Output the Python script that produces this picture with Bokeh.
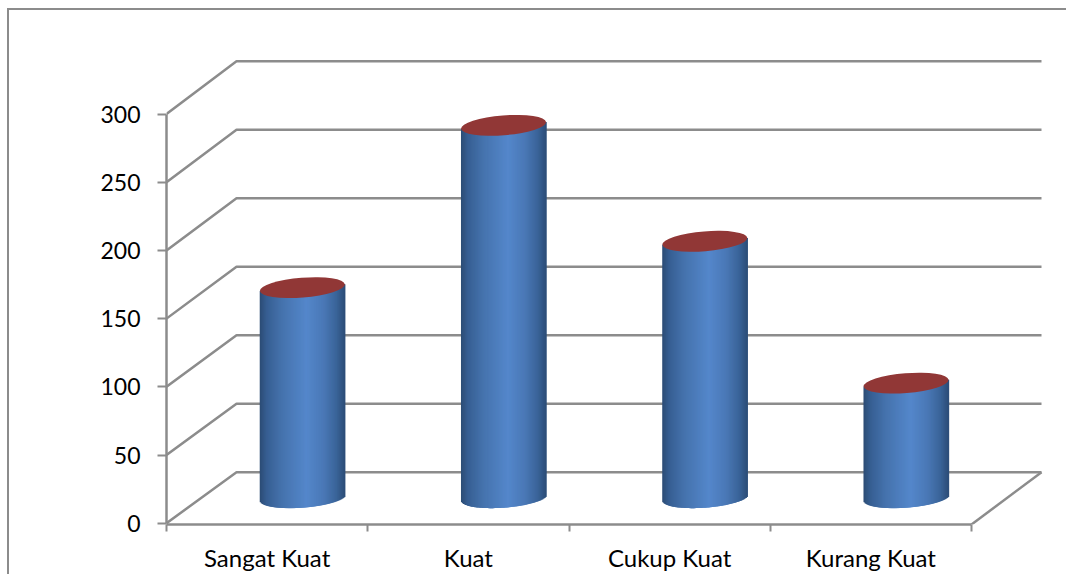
import math
from bokeh.embed import file_html
from bokeh.models import FixedTicker, LinearAxis, Range1d
from bokeh.plotting import figure
from bokeh.resources import INLINE

categories = ["Sangat Kuat", "Kuat", "Cukup Kuat", "Kurang Kuat"]
values = [154, 273, 188, 84]
y_ticks = [0, 50, 100, 150, 200, 250, 300]

GRAY = "#8c8c8c"
CAP_COLOR = "#913736"
FONT = "Lato"

# The figure sits inside a page-level border on its left and top
PAGE_W, PAGE_H = 1066, 574
MARGIN_X, MARGIN_Y = 7, 8
BORDER = 2
INSET_X, INSET_Y = MARGIN_X + BORDER, MARGIN_Y + BORDER
WIDTH, HEIGHT = PAGE_W - MARGIN_X, PAGE_H - MARGIN_Y
LEFT, BOTTOM = 166 - INSET_X, 52
FRAME_W, FRAME_H = WIDTH - LEFT, HEIGHT - BOTTOM

# Pixel scales of the two value axes
PX_X = 201.25
PX_Y = 1.364
ZERO_Y = 522.7 - INSET_Y

# Oblique depth of the chart box, in axis units; the back wall is a touch taller
DEPTH_X = 70 / PX_X
DEPTH_Y = 51 / PX_Y
BACK_STRETCH = 1.004

# Cylinder proportions, in pixels
HALF_W = 42.6
HALF_H = 9.9
TILT = math.radians(4.6)
BAR_SHIFT = 0.2

# Horizontal shading across a cylinder (position, rgb)
RAMP = [
    (0.00, (44, 76, 116)),
    (0.08, (54, 94, 146)),
    (0.25, (69, 114, 172)),
    (0.55, (84, 135, 203)),
    (0.75, (74, 120, 182)),
    (0.90, (58, 100, 153)),
    (1.00, (44, 77, 119)),
]


def shade(t):
    for (t0, c0), (t1, c1) in zip(RAMP, RAMP[1:]):
        if t <= t1:
            f = (t - t0) / (t1 - t0)
            rgb = [round(a + (b - a) * f) for a, b in zip(c0, c1)]
            return "#%02x%02x%02x" % tuple(rgb)
    return "#%02x%02x%02x" % RAMP[-1][1]


def lower_arc(dx):
    """Downward distance in pixels from the ellipse centre to its lower edge at dx."""
    c, s = math.cos(TILT), math.sin(TILT)
    a2, b2 = HALF_W ** 2, HALF_H ** 2
    qa = s * s / a2 + c * c / b2
    qb = 2 * dx * c * s * (1 / a2 - 1 / b2)
    qc = dx * dx * (c * c / a2 + s * s / b2) - 1
    disc = max(qb * qb - 4 * qa * qc, 0)
    dy_up = (-qb - math.sqrt(disc)) / (2 * qa)
    return -dy_up


p = figure(
    width=WIDTH,
    height=HEIGHT,
    output_backend="svg",
    toolbar_location=None,
    x_range=Range1d(0, FRAME_W / PX_X),
    y_range=Range1d(-(FRAME_H - ZERO_Y) / PX_Y, ZERO_Y / PX_Y),
    x_axis_type=None,
    y_axis_type=None,
    min_border_left=LEFT,
    min_border_right=0,
    min_border_top=0,
    min_border_bottom=BOTTOM,
    outline_line_color=None,
    background_fill_color="white",
    border_fill_color="white",
    styles={
        "margin-left": f"{MARGIN_X}px",
        "margin-top": f"{MARGIN_Y}px",
        "border-left": f"{BORDER}px solid {GRAY}",
        "border-top": f"{BORDER}px solid {GRAY}",
    },
)
p.grid.visible = False

# Side-wall and back-wall gridlines
p.multi_line(
    xs=[[0, DEPTH_X, len(categories) + DEPTH_X] for _ in y_ticks],
    ys=[[v, v * BACK_STRETCH + DEPTH_Y, v * BACK_STRETCH + DEPTH_Y] for v in y_ticks],
    line_color=GRAY,
    line_width=2.5,
)

# Right edge of the floor
p.line(
    x=[len(categories), len(categories) + DEPTH_X],
    y=[-(FRAME_H - ZERO_Y) / PX_Y, DEPTH_Y],
    line_color=GRAY,
    line_width=2.5,
)

# Cylinders: shaded strips capped with a tilted ellipse
base_y = DEPTH_Y / 2
for i, val in enumerate(values):
    center = i + 0.5 + DEPTH_X / 2 + BAR_SHIFT / PX_X
    left, right, bottom, top, colors = [], [], [], [], []
    n = int(2 * HALF_W)
    for k in range(n):
        dx0 = -HALF_W + 2 * HALF_W * k / n
        dx1 = -HALF_W + 2 * HALF_W * (k + 1) / n
        mid = (dx0 + dx1) / 2
        overlap = 1.5 if k < n - 1 else 0
        left.append(center + dx0 / PX_X)
        right.append(center + (dx1 + overlap) / PX_X)
        bottom.append(base_y - lower_arc(mid) / PX_Y)
        top.append(val + base_y + (mid * math.tan(TILT)) / PX_Y)
        colors.append(shade((k + 0.5) / n))
    p.quad(left=left, right=right, bottom=bottom, top=top,
           fill_color=colors, line_color=None)
    p.ellipse(
        x=[center],
        y=[val + base_y],
        width=[2 * HALF_W / PX_X],
        height=[2 * HALF_H / PX_Y],
        angle=[TILT],
        fill_color=CAP_COLOR,
        line_color=None,
    )

y_axis = LinearAxis(
    ticker=FixedTicker(ticks=y_ticks),
    bounds=(0, 300),
    axis_line_color=GRAY,
    axis_line_width=2.5,
    major_tick_line_color=GRAY,
    major_tick_line_width=2,
    major_tick_in=0,
    major_tick_out=9,
    minor_tick_line_color=None,
    major_label_text_font=FONT,
    major_label_text_font_size="23px",
    major_label_text_color="black",
    major_label_standoff=17,
)
p.add_layout(y_axis, "left")

# Labels sit on category centres; tick marks sit on category boundaries
x_axis = LinearAxis(
    ticker=FixedTicker(
        ticks=[i + 0.5 for i in range(len(categories))],
        minor_ticks=list(range(len(categories) + 1)),
    ),
    bounds=(0, len(categories)),
    major_label_overrides={i + 0.5: c for i, c in enumerate(categories)},
    axis_line_color=GRAY,
    axis_line_width=2.5,
    major_tick_line_color=None,
    major_tick_in=0,
    major_tick_out=7,
    minor_tick_line_color=GRAY,
    minor_tick_line_width=2,
    minor_tick_in=0,
    minor_tick_out=7,
    major_label_text_font=FONT,
    major_label_text_font_size="24px",
    major_label_text_color="black",
    major_label_standoff=11,
)
p.add_layout(x_axis, "below")

open("out.html", "w").write(file_html(p, INLINE))
